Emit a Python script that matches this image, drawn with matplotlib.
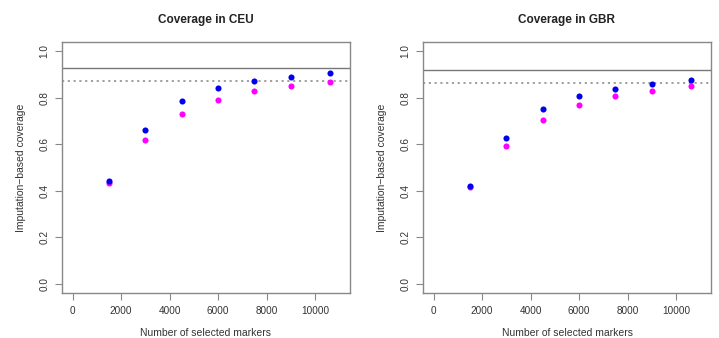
import matplotlib
matplotlib.use("Agg")
import matplotlib.pyplot as plt

markers = [1500, 3000, 4500, 6000, 7500, 9000, 10600]
ceu_blue = [0.443, 0.660, 0.784, 0.844, 0.871, 0.889, 0.907]
ceu_magenta = [0.435, 0.620, 0.729, 0.791, 0.829, 0.851, 0.868]
ceu_solid = 0.928
ceu_dotted = 0.874
gbr_blue = [0.421, 0.628, 0.750, 0.808, 0.838, 0.858, 0.876]
gbr_magenta = [0.414, 0.594, 0.705, 0.767, 0.807, 0.831, 0.850]
gbr_solid = 0.921
gbr_dotted = 0.864
titles = ["Coverage in CEU", "Coverage in GBR"]
xticks = [0, 2000, 4000, 6000, 8000, 10000]
yticks = [0.0, 0.2, 0.4, 0.6, 0.8, 1.0]

plt.rcParams['font.family'] = ['Liberation Sans', 'DejaVu Sans']
W, H = 719, 338
fig = plt.figure(figsize=(W / 100, H / 100), dpi=100)

panels = [
    (62, ceu_blue, ceu_magenta, ceu_solid, ceu_dotted, titles[0]),
    (423, gbr_blue, gbr_magenta, gbr_solid, gbr_dotted, titles[1]),
]
txt = '#333333'
edge = '#888888'
for left, blue, mag, solid, dotted, title in panels:
    ax = fig.add_axes([left / W, 1 - 293 / H, 288 / W, (293 - 42) / H])
    ax.set_xlim(-440, 11440)
    ax.set_ylim(-0.04, 1.04)
    ax.axhline(solid, color='#777777', lw=1.0)
    ax.axhline(dotted, color='#999999', lw=1.3, ls=(0, (1.2, 2.0)))
    ax.plot(markers, mag, 'o', color='#ff00ff', ms=4.4, mec='none')
    ax.plot(markers, blue, 'o', color='#0000ee', ms=4.4, mec='none')
    ax.set_xticks(xticks)
    ax.set_yticks(yticks)
    ax.set_yticklabels([f"{v:.1f}" for v in yticks], rotation=90, va='center')
    for s in ax.spines.values():
        s.set_color(edge)
        s.set_linewidth(1.0)
    ax.tick_params(direction='out', length=5, width=0.8, color=edge,
                   labelsize=7.2, labelcolor=txt, pad=4)
    ax.set_title(title, fontsize=8.5, fontweight='bold', color='#222222', pad=14)
    ax.set_xlabel("Number of selected markers", fontsize=7.5, color=txt, labelpad=9)
    ax.set_ylabel("Imputation\u2212based coverage", fontsize=7.5, color=txt, labelpad=10)

fig.savefig("out.png", dpi=100)
